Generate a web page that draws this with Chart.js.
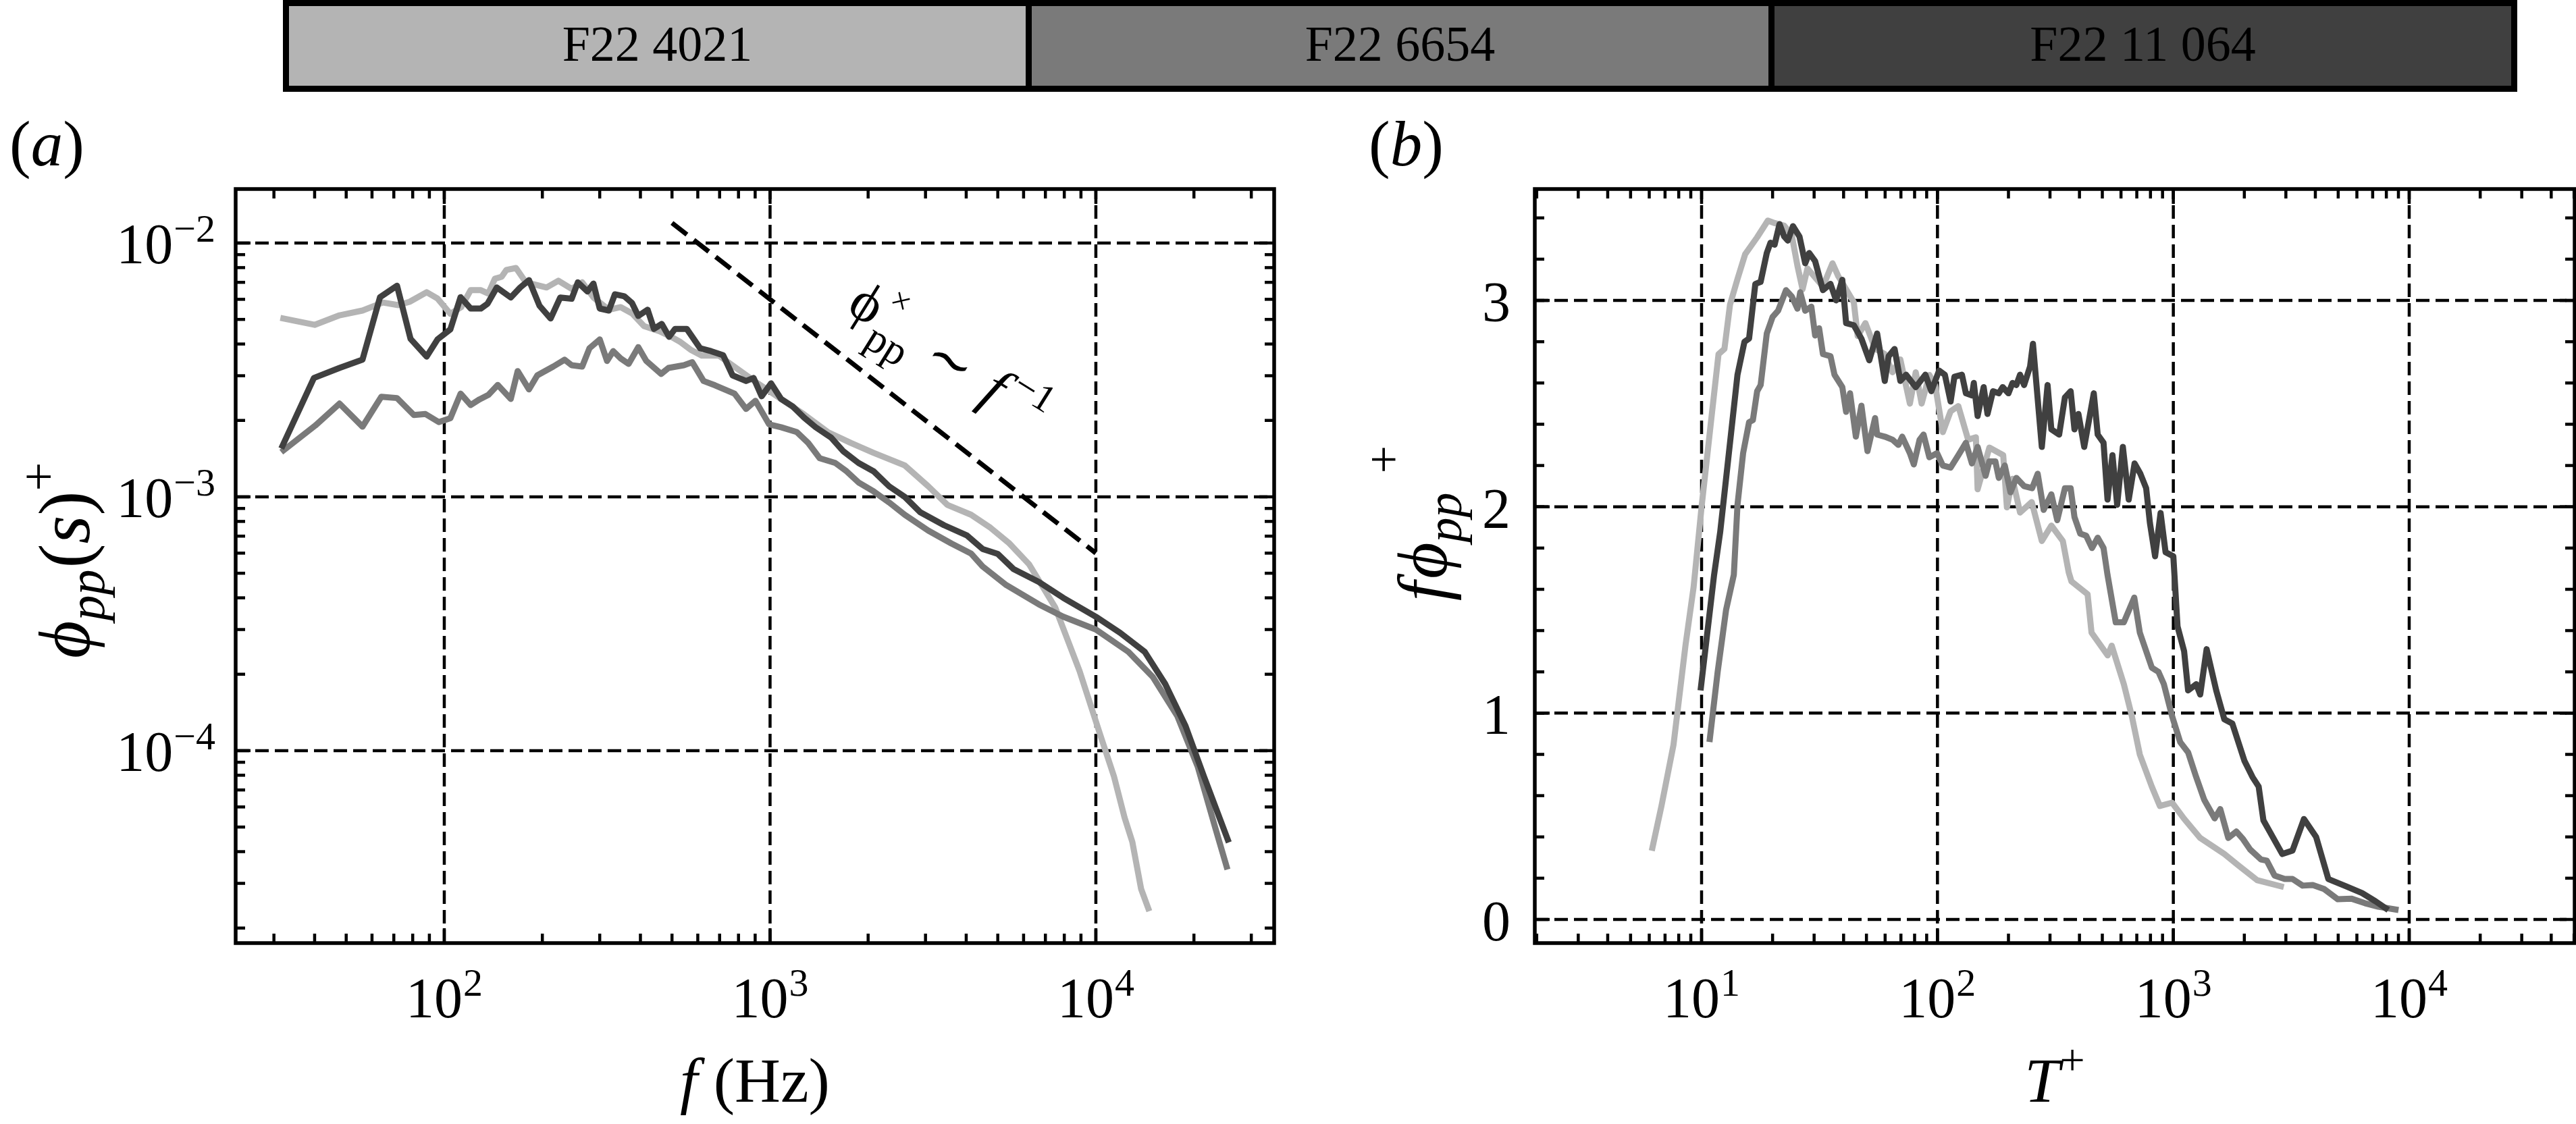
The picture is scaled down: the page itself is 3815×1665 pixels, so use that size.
<!DOCTYPE html>
<html>
<head>
<meta charset="utf-8">
<script src="https://cdn.jsdelivr.net/npm/chart.js@4/dist/chart.umd.min.js"></script>
<style>
	html, body { margin: 0; padding: 0; background: #fff; }
	#figura { position: relative; width: 3815px; height: 1665px; overflow: hidden; background: #fff; }
	#grafico-a, #grafico-b { position: absolute; top: 0; }
	#grafico-a { left: 0; }
	#grafico-b { left: 1950px; }
	#legenda {
		position: absolute; left: 419px; top: 0; width: 3309px; height: 136px;
		display: flex; box-sizing: border-box; border: 9px solid #000; z-index: 2;
	}
	.caixa {
		flex: 1; display: flex; align-items: center; justify-content: center;
		font-family: "Liberation Serif", serif; font-size: 74px; color: #000; padding-bottom: 6px;
	}
	.caixa + .caixa { border-left: 9px solid #000; }
</style>
</head>
<body>
<div id="figura">
	<div id="legenda"></div>
	<canvas id="grafico-a" width="1950" height="1665"></canvas>
	<canvas id="grafico-b" width="1865" height="1665"></canvas>
</div>
<script>
const casos = ["F22 4021", "F22 6654", "F22 11 064"];
const cores = ["#b4b4b4", "#7a7a7a", "#404040"];

// (a) espectro phi_pp(s)+ contra f (Hz)
const espectroClaro = [
	[31.4, 5.07e-3], [40.0, 4.76e-3], [47.7, 5.19e-3], [56.1, 5.42e-3], [64.8, 5.83e-3], [72.3, 5.69e-3],
	[78.3, 5.87e-3], [88.3, 6.40e-3], [95.3, 6.05e-3], [104.4, 5.26e-3], [112.7, 5.59e-3], [120.5, 6.52e-3],
	[129.5, 6.52e-3], [136.5, 6.32e-3], [143, 7.23e-3], [150, 7.36e-3], [155, 7.83e-3], [166, 7.97e-3],
	[178, 7.0e-3], [206, 6.68e-3], [224, 7.1e-3], [246, 6.6e-3], [265, 7.0e-3], [287, 6.1e-3], [320, 5.46e-3],
	[348, 5.59e-3], [377, 5.28e-3], [410, 4.71e-3], [458, 4.49e-3], [497, 4.27e-3], [528, 4.09e-3],
	[570, 3.80e-3], [617, 3.6e-3], [697, 3.6e-3], [916, 2.80e-3], [1021, 2.55e-3], [1273, 2.11e-3],
	[1503, 1.80e-3], [1770, 1.63e-3], [2080, 1.49e-3], [2590, 1.33e-3], [3060, 1.10e-3], [3500, 9.3e-4],
	[4140, 8.5e-4], [4750, 7.55e-4], [5430, 6.55e-4], [6240, 5.42e-4], [7500, 3.67e-4], [8910, 2.06e-4],
	[10300, 1.16e-4], [11370, 7.9e-5], [12250, 5.45e-5], [12940, 4.37e-5], [13770, 2.85e-5], [14590, 2.33e-5]
];
const espectroMedio = [
	[31.6, 1.5e-3], [40.2, 1.91e-3], [47.7, 2.33e-3], [56.1, 1.89e-3], [64.1, 2.48e-3], [71.6, 2.45e-3],
	[80.7, 2.10e-3], [87.5, 2.12e-3], [96.2, 1.97e-3], [104.4, 2.04e-3], [112.2, 2.55e-3], [120.5, 2.30e-3],
	[128.2, 2.42e-3], [136.5, 2.52e-3], [146, 2.76e-3], [160, 2.43e-3], [168, 3.13e-3], [182, 2.65e-3],
	[193, 3.01e-3], [216, 3.26e-3], [234, 3.47e-3], [246, 3.30e-3], [265, 3.26e-3], [279, 3.85e-3],
	[300, 4.17e-3], [316, 3.43e-3], [330, 3.75e-3], [348, 3.51e-3], [368, 3.34e-3], [394, 3.89e-3],
	[417, 3.43e-3], [463, 3.05e-3], [488, 3.22e-3], [544, 3.30e-3], [577, 3.39e-3], [625, 2.86e-3],
	[678, 2.75e-3], [778, 2.55e-3], [844, 2.22e-3], [902, 2.39e-3], [993, 1.93e-3], [1081, 1.88e-3],
	[1208, 1.80e-3], [1310, 1.63e-3], [1420, 1.42e-3], [1585, 1.36e-3], [1718, 1.26e-3], [1868, 1.14e-3],
	[2080, 1.05e-3], [2320, 9.5e-4], [2590, 8.5e-4], [3060, 7.36e-4], [3600, 6.55e-4], [4140, 5.98e-4],
	[4490, 5.32e-4], [5310, 4.49e-4], [6680, 3.77e-4], [7940, 3.37e-4], [10000, 3.0e-4], [12590, 2.45e-4],
	[14960, 1.95e-4], [17780, 1.37e-4], [20540, 8.65e-5], [23280, 4.94e-5], [25350, 3.4e-5]
];
const espectroEscuro = [
	[31.6, 1.55e-3], [39.8, 2.94e-3], [47.7, 3.22e-3], [56.1, 3.47e-3], [63.5, 6.12e-3], [71.6, 6.79e-3],
	[78.8, 4.19e-3], [88.3, 3.57e-3], [95.3, 4.17e-3], [104.4, 4.57e-3], [112.2, 6.12e-3], [120.5, 5.52e-3],
	[129.5, 5.52e-3], [135.8, 5.77e-3], [145, 6.68e-3], [160, 6.1e-3], [171, 6.68e-3], [182, 7.14e-3],
	[196, 5.66e-3], [212, 5.04e-3], [227, 6.1e-3], [246, 6.03e-3], [257, 7.0e-3], [275, 6.44e-3],
	[287, 6.92e-3], [300, 5.52e-3], [320, 5.42e-3], [334, 6.28e-3], [357, 6.17e-3], [377, 5.8e-3],
	[394, 5.16e-3], [421, 5.46e-3], [440, 4.59e-3], [465, 4.8e-3], [490, 4.27e-3], [511, 4.59e-3],
	[555, 4.59e-3], [610, 3.85e-3], [659, 3.75e-3], [718, 3.61e-3], [767, 3.01e-3], [844, 2.86e-3],
	[890, 2.94e-3], [942, 2.49e-3], [1007, 2.80e-3], [1081, 2.43e-3], [1173, 2.27e-3], [1273, 2.05e-3],
	[1380, 1.88e-3], [1540, 1.71e-3], [1680, 1.51e-3], [1868, 1.36e-3], [2080, 1.26e-3], [2320, 1.10e-3],
	[2590, 1.0e-3], [2890, 8.7e-4], [3420, 7.73e-4], [4020, 7.05e-4], [4490, 6.23e-4], [5000, 5.96e-4],
	[5590, 5.19e-4], [6680, 4.62e-4], [7940, 4.0e-4], [10000, 3.37e-4], [11880, 2.91e-4], [14130, 2.45e-4],
	[16330, 1.83e-4], [18850, 1.25e-4], [21480, 7.9e-5], [25590, 4.35e-5]
];
const retaInclinada = [[500, 0.012], [10000, 6.0e-4]];

// (b) espectro pre-multiplicado contra T+
const premultClaro = [
	[6.15, 0.333], [6.76, 0.55], [7.6, 0.845], [8.55, 1.33], [9.25, 1.61], [10, 2.0], [10.9, 2.387],
	[11.8, 2.74], [12.5, 2.765], [13.2, 2.98], [14.2, 3.104], [15.3, 3.224], [17.2, 3.306], [19.1, 3.387],
	[20.4, 3.375], [22.4, 3.362], [24.1, 3.318], [25.5, 3.167], [26.8, 3.054], [28.1, 3.155], [32.7, 3.067],
	[35.9, 3.18], [38.0, 3.117], [41.0, 3.054], [44.2, 2.991], [45.9, 2.828], [49.5, 2.89], [54.5, 2.765],
	[59.8, 2.74], [64.5, 2.652], [69.6, 2.714], [76.4, 2.5], [80.9, 2.652], [85.7, 2.5], [92.4, 2.639],
	[97.8, 2.589], [105.4, 2.362], [113.7, 2.463], [122.6, 2.488], [134.9, 2.325], [145.5, 2.337],
	[148, 2.085], [166, 2.287], [190, 2.25], [197, 1.997], [208, 2.136], [224, 1.972], [251, 2.023],
	[277, 1.834], [304, 1.909], [340, 1.834], [360, 1.683], [370, 1.638], [433, 1.576], [450, 1.39],
	[527, 1.28], [548, 1.327], [617, 1.14], [667, 0.985], [721, 0.799], [811, 0.643], [877, 0.55],
	[988, 0.566], [1111, 0.488], [1300, 0.395], [1645, 0.317], [1888, 0.262], [2270, 0.19], [2940, 0.157]
];
const premultMedio = [
	[10.8, 0.86], [11.7, 1.20], [12.7, 1.50], [13.7, 1.67], [14.2, 2.01], [15.0, 2.26], [15.9, 2.41],
	[16.5, 2.42], [17.2, 2.56], [17.8, 2.59], [18.9, 2.84], [20.0, 2.92], [21.1, 2.95], [22.8, 3.05],
	[24.1, 3.02], [25.5, 2.96], [26.2, 3.04], [27.5, 2.95], [29.2, 2.97], [30.3, 2.83], [31.5, 2.865],
	[32.7, 2.74], [35.2, 2.73], [36.6, 2.64], [39.5, 2.58], [41.0, 2.46], [42.6, 2.55], [45.1, 2.34],
	[47.6, 2.49], [50.5, 2.27], [54.4, 2.43], [55.5, 2.35], [59.8, 2.34], [64.5, 2.325], [68.3, 2.30],
	[70.9, 2.34], [76.4, 2.26], [79.4, 2.205], [84.0, 2.325], [87.3, 2.35], [92.4, 2.24], [99.6, 2.26],
	[105.4, 2.20], [113.7, 2.19], [122.6, 2.25], [132, 2.31], [140, 2.21], [148, 2.29], [160, 2.15],
	[166, 2.22], [176, 2.22], [182, 2.14], [193, 2.20], [204, 2.07], [216, 2.14], [233, 2.10], [252, 2.09],
	[266, 2.16], [282, 1.985], [304, 2.06], [322, 1.935], [347, 2.09], [367, 2.09], [381, 1.95],
	[403, 1.87], [427, 1.86], [452, 1.80], [478, 1.85], [506, 1.80], [526, 1.67], [570, 1.44], [617, 1.44],
	[683, 1.56], [721, 1.39], [811, 1.22], [865, 1.20], [912, 1.14], [988, 0.985], [1069, 0.86],
	[1155, 0.81], [1250, 0.69], [1352, 0.58], [1497, 0.49], [1581, 0.535], [1710, 0.395], [1850, 0.426],
	[1976, 0.389], [2113, 0.34], [2350, 0.291], [2490, 0.285], [2686, 0.213], [2965, 0.196], [3200, 0.196],
	[3532, 0.164], [3900, 0.167], [4365, 0.147], [4980, 0.098], [5680, 0.101], [6480, 0.079],
	[7390, 0.062], [9010, 0.046]
];
const premultEscuro = [
	[9.9, 1.11], [11.3, 1.67], [12.0, 1.88], [14.2, 2.64], [15.2, 2.80], [15.9, 2.815], [16.9, 3.08],
	[17.8, 3.09], [18.9, 3.23], [19.6, 3.28], [20.4, 3.27], [21.4, 3.37], [22.4, 3.31], [23.2, 3.29],
	[24.4, 3.36], [26.0, 3.31], [27.5, 3.18], [28.6, 3.23], [30.3, 3.19], [32.7, 3.05], [35.2, 3.08],
	[37.2, 3.0], [39.5, 3.10], [41.0, 2.89], [44.2, 2.88], [47.6, 2.815], [51.4, 2.71], [55.5, 2.84],
	[59.8, 2.61], [62.1, 2.73], [65.8, 2.765], [69.6, 2.61], [73.6, 2.64], [80.9, 2.58], [88.9, 2.64],
	[94.2, 2.56], [101.6, 2.66], [107.5, 2.64], [113.7, 2.51], [118, 2.63], [127, 2.64], [132, 2.55],
	[140, 2.54], [142.6, 2.60], [148, 2.44], [157, 2.58], [163, 2.45], [172, 2.56], [182, 2.55],
	[189, 2.58], [200, 2.55], [208, 2.60], [216, 2.59], [224, 2.64], [233, 2.59], [247, 2.68], [254, 2.79],
	[277, 2.29], [293, 2.59], [304, 2.375], [328, 2.35], [347, 2.53], [367, 2.56], [381, 2.375],
	[396, 2.45], [419, 2.29], [460, 2.55], [478, 2.35], [506, 2.31], [526, 2.035], [552, 2.25],
	[578, 2.01], [611, 2.29], [647, 2.035], [685, 2.21], [725, 2.16], [767, 2.09], [796, 1.92],
	[837, 1.76], [883, 1.97], [927, 1.78], [1000, 1.76], [1042, 1.42], [1111, 1.30], [1155, 1.11],
	[1250, 1.14], [1300, 1.09], [1384, 1.31], [1520, 1.11], [1645, 0.97], [1778, 0.95], [2000, 0.77],
	[2166, 0.69], [2300, 0.644], [2410, 0.48], [2897, 0.317], [3200, 0.334], [3580, 0.487], [4030, 0.40],
	[4540, 0.196], [5420, 0.16], [6310, 0.128], [7200, 0.088], [8150, 0.046]
];

const expoentesAx = [2, 3, 4];
const expoentesAy = [-2, -3, -4];
const expoentesBx = [1, 2, 3, 4];
const valoresBy = [0, 1, 2, 3];

const FONTE = '"Liberation Serif", "DejaVu Serif", serif';

window.addEventListener("load", () => {
	criaLegenda();
	criaGraficoA();
	criaGraficoB();
});

function criaLegenda() {
	const legenda = document.querySelector("#legenda");
	casos.forEach((caso, i) => {
		legenda.innerHTML += `<div class="caixa" style="background:${cores[i]}">${caso}</div>`;
	});
}

function fonte(tam, it) {
	return (it ? "italic " : "") + tam + "px " + FONTE;
}

// texto com partes em tamanhos/deslocamentos diferentes (sub e sobrescritos)
function escreve(ctx, partes, x, y, alinha) {
	let total = 0;
	partes.forEach((p) => {
		ctx.font = fonte(p.tam, p.it);
		p.w = ctx.measureText(p.t).width;
		total += (p.dx || 0) + p.w;
	});
	let cx = alinha === "center" ? x - total / 2 : alinha === "right" ? x - total : x;
	partes.forEach((p) => {
		ctx.font = fonte(p.tam, p.it);
		cx += p.dx || 0;
		ctx.fillText(p.t, cx, y + (p.dy || 0));
		cx += p.w;
	});
}

function potencia(e) {
	return [
		{ t: "10", tam: 84 },
		{ t: e < 0 ? "\u2212" + -e : String(e), tam: 58, dy: -32, dx: 1 },
	];
}

function menoresLog(dMin, dMax) {
	const lista = [];
	for (let d = dMin; d <= dMax; d++) {
		for (let k = 2; k <= 9; k++) lista.push(k * Math.pow(10, d));
	}
	return lista;
}

function menoresLin(passo, min, max) {
	const lista = [];
	for (let v = min; v <= max + 1e-9; v += passo) lista.push(Math.round(v * 10) / 10);
	return lista;
}

function moldura(cfg) {
	return {
		id: "moldura",
		beforeDatasetsDraw(chart) {
			const { ctx, chartArea: a, scales: { x, y } } = chart;
			ctx.save();
			ctx.beginPath();
			ctx.rect(a.left, a.top, a.right - a.left, a.bottom - a.top);
			ctx.clip();
			ctx.strokeStyle = "#000";
			ctx.lineWidth = 4.5;
			ctx.setLineDash([20, 9]);
			cfg.gradeX.forEach((v) => {
				const px = x.getPixelForValue(v);
				ctx.beginPath();
				ctx.moveTo(px, a.bottom);
				ctx.lineTo(px, a.top);
				ctx.stroke();
			});
			cfg.gradeY.forEach((v) => {
				const py = y.getPixelForValue(v);
				ctx.beginPath();
				ctx.moveTo(a.left, py);
				ctx.lineTo(a.right, py);
				ctx.stroke();
			});
			ctx.restore();
		},
		afterDatasetsDraw(chart) {
			const { ctx, chartArea: a, scales: { x, y } } = chart;
			ctx.save();
			ctx.strokeStyle = "#000";
			ctx.fillStyle = "#000";
			ctx.lineCap = "butt";
			const traco = (x1, y1, x2, y2) => {
				ctx.beginPath();
				ctx.moveTo(x1, y1);
				ctx.lineTo(x2, y2);
				ctx.stroke();
			};
			ctx.lineWidth = 4.5;
			const marcasX = (lista, comp) => lista.forEach((v) => {
				if (v <= x.min || v >= x.max) return;
				const px = x.getPixelForValue(v);
				traco(px, a.bottom, px, a.bottom - comp);
				traco(px, a.top, px, a.top + comp);
			});
			const marcasY = (lista, comp) => lista.forEach((v) => {
				if (v <= y.min || v >= y.max) return;
				const py = y.getPixelForValue(v);
				traco(a.left, py, a.left + comp, py);
				traco(a.right, py, a.right - comp, py);
			});
			marcasX(cfg.menoresX, 14);
			marcasX(cfg.gradeX, 22);
			marcasY(cfg.menoresY, 14);
			marcasY(cfg.gradeY, 22);

			ctx.lineWidth = 5.5;
			ctx.strokeRect(a.left, a.top, a.right - a.left, a.bottom - a.top);

			ctx.textAlign = "left";
			ctx.textBaseline = "alphabetic";
			cfg.rotulosX.forEach(([v, partes]) => {
				escreve(ctx, partes, x.getPixelForValue(v), a.bottom + 110, "center");
			});
			cfg.rotulosY.forEach(([v, partes]) => {
				escreve(ctx, partes, a.left - cfg.recuoY, y.getPixelForValue(v) + cfg.baseY, "right");
			});

			escreve(ctx, cfg.tituloX, (a.left + a.right) / 2, 1632, "center");

			ctx.save();
			ctx.translate(cfg.tituloYx, cfg.tituloYy);
			ctx.rotate(-Math.PI / 2);
			escreve(ctx, cfg.tituloY, 0, 0, "center");
			ctx.restore();

			escreve(ctx, cfg.letra, cfg.letraX, 245, "left");

			if (cfg.anotacao) cfg.anotacao(ctx, x, y);
			ctx.restore();
		},
	};
}

function serie(pontos, cor, largura) {
	return {
		data: pontos.map(([x, y]) => ({ x, y })),
		borderColor: cor,
		borderWidth: largura,
		pointRadius: 0,
		fill: false,
		tension: 0,
		borderJoinStyle: "round",
	};
}

function opcoes(padding, escalas) {
	return {
		responsive: false,
		animation: false,
		events: [],
		layout: { padding },
		plugins: { legend: { display: false }, tooltip: { enabled: false } },
		scales: escalas,
	};
}

function anotacaoA(ctx, x, y) {
	ctx.save();
	ctx.translate(x.getPixelForValue(1700), y.getPixelForValue(5.4e-3));
	ctx.rotate((32 * Math.PI) / 180);
	ctx.font = fonte(84, false);
	ctx.fillText("\u03D5", 0, 0);
	const w = ctx.measureText("\u03D5").width;
	ctx.font = fonte(50, false);
	ctx.fillText("\u00D7", w + 4, -40);
	ctx.font = fonte(62, false);
	ctx.fillText("pp", w + 4, 30);
	const wpp = ctx.measureText("pp").width;
	escreve(ctx, [
		{ t: "\u223C", tam: 84 },
		{ t: "f", tam: 88, it: true, dx: 30 },
		{ t: "\u22121", tam: 58, dy: -36, dx: 10 },
	], w + wpp + 30, 8, "left");
	ctx.restore();
}

function criaGraficoA() {
	const canvas = document.querySelector("#grafico-a");
	const reta = serie(retaInclinada, "#000", 7);
	reta.borderDash = [28, 13];
	new Chart(canvas, {
		type: "line",
		data: {
			datasets: [
				reta,
				serie(espectroEscuro, cores[2], 9),
				serie(espectroMedio, cores[1], 9),
				serie(espectroClaro, cores[0], 9),
			],
		},
		options: opcoes({ left: 349, top: 280, right: 63, bottom: 268 }, {
			x: { type: "logarithmic", min: 22.89, max: 35260, display: false },
			y: { type: "logarithmic", min: 1.745e-5, max: 0.01632, display: false },
		}),
		plugins: [moldura({
			gradeX: expoentesAx.map((e) => Math.pow(10, e)),
			gradeY: expoentesAy.map((e) => Math.pow(10, e)),
			menoresX: menoresLog(1, 4),
			menoresY: menoresLog(-5, -2),
			rotulosX: expoentesAx.map((e) => [Math.pow(10, e), potencia(e)]),
			rotulosY: expoentesAy.map((e) => [Math.pow(10, e), potencia(e)]),
			recuoY: 30,
			baseY: 30,
			tituloX: [{ t: "f", tam: 94, it: true }, { t: " (Hz)", tam: 94 }],
			tituloY: [
				{ t: "\u03D5", tam: 108, it: true },
				{ t: "pp", tam: 76, it: true, dy: 22 },
				{ t: "(", tam: 108, dx: 2 },
				{ t: "s", tam: 108, it: true },
				{ t: ")", tam: 108 },
				{ t: "+", tam: 76, dy: -50 },
			],
			tituloYx: 132,
			tituloYy: 830,
			letra: [{ t: "(", tam: 95 }, { t: "a", tam: 95, it: true }, { t: ")", tam: 95 }],
			letraX: 14,
			anotacao: anotacaoA,
		})],
	});
}

function criaGraficoB() {
	const canvas = document.querySelector("#grafico-b");
	new Chart(canvas, {
		type: "line",
		data: {
			datasets: [
				serie(premultEscuro, cores[2], 9),
				serie(premultMedio, cores[1], 9),
				serie(premultClaro, cores[0], 9),
			],
		},
		options: opcoes({ left: 323, top: 280, right: 2, bottom: 268 }, {
			x: { type: "logarithmic", min: 1.963, max: 50280, display: false },
			y: { type: "linear", min: -0.1145, max: 3.54, display: false },
		}),
		plugins: [moldura({
			gradeX: expoentesBx.map((e) => Math.pow(10, e)),
			gradeY: valoresBy,
			menoresX: menoresLog(0, 4),
			menoresY: menoresLin(0.2, 0.2, 3.4),
			rotulosX: expoentesBx.map((e) => [Math.pow(10, e), potencia(e)]),
			rotulosY: valoresBy.map((v) => [v, [{ t: String(v), tam: 84 }]]),
			recuoY: 36,
			baseY: 31,
			tituloX: [{ t: "T", tam: 94, it: true }, { t: "+", tam: 66, dy: -40 }],
			tituloY: [
				{ t: "f", tam: 104, it: true },
				{ t: "\u03D5", tam: 104, it: true, dx: 4 },
				{ t: "pp", tam: 74, it: true, dy: 22 },
				{ t: "+", tam: 74, dy: -68, dx: 28 },
			],
			tituloYx: 192,
			tituloYy: 775,
			letra: [{ t: "(", tam: 95 }, { t: "b", tam: 95, it: true }, { t: ")", tam: 95 }],
			letraX: 77,
		})],
	});
}
</script>
</body>
</html>
